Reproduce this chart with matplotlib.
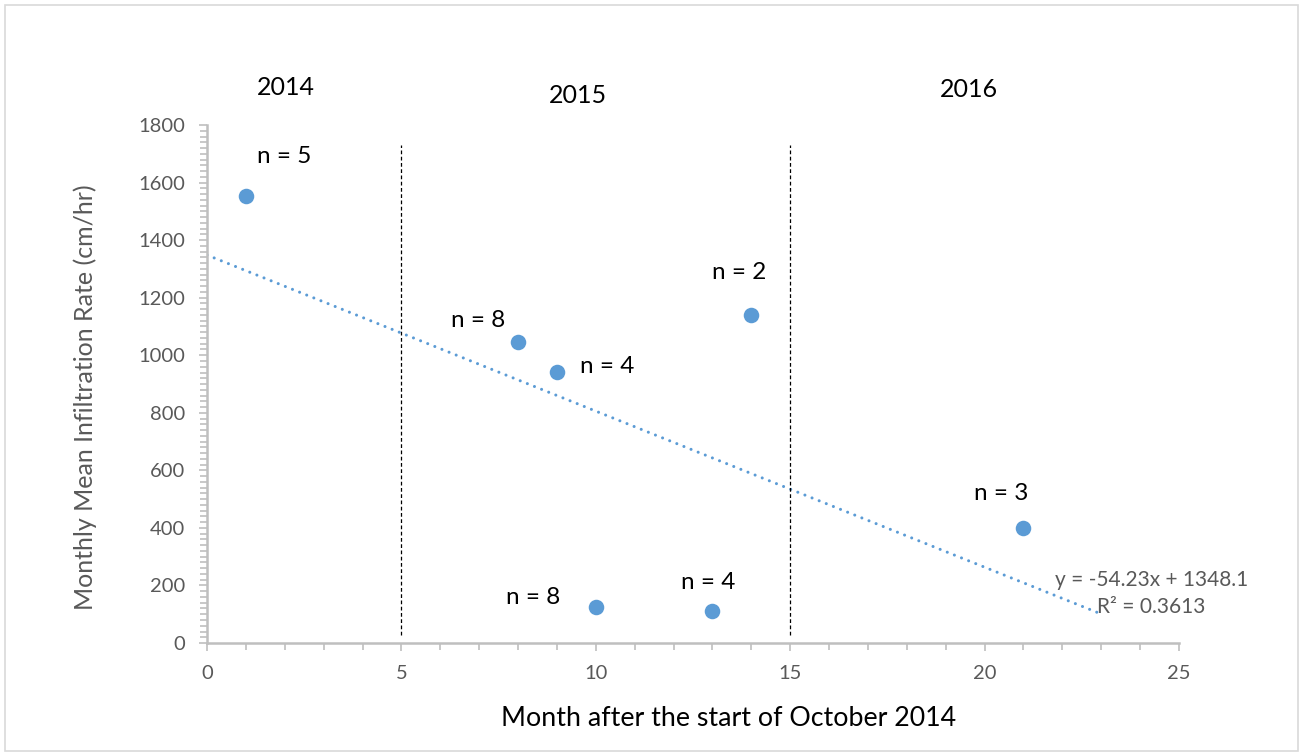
import numpy as np
import matplotlib.pyplot as plt
from matplotlib.ticker import MultipleLocator
from matplotlib.patches import Rectangle

# data
month = [1, 8, 9, 10, 13, 14, 21]
rate = [1553, 1046, 941, 125, 111, 1140, 400]
n_labels = ['n = 5', 'n = 8', 'n = 4', 'n = 8', 'n = 4', 'n = 2', 'n = 3']
# label position offsets (data units) relative to each point
label_dx = [0.99, -1.03, 1.30, -1.62, -0.12, -0.30, -0.56]
label_dy = [139, 76, 20, 33, 101, 149, 121]
year_labels = ['2014', '2015', '2016']
year_x = [2.03, 9.54, 19.6]
year_y = [1932, 1901, 1925]
dividers = [5, 15]

# trendline as reported on the chart
trend_slope = -54.23
trend_intercept = 1348.1
trend_r2 = 0.3613

blue = '#5B9BD5'
grey = '#595959'

plt.rcParams['font.family'] = ['Lato', 'DejaVu Sans']

fig = plt.figure(figsize=(13.03, 7.54), dpi=100)
ax = fig.add_axes([0.1589, 0.1472, 0.9048 - 0.1589, 0.8342 - 0.1472])

# light border round the chart area
fig.patches.append(Rectangle((0.004, 0.004), 0.992, 0.99, transform=fig.transFigure,
                             fill=False, edgecolor='#D9D9D9', linewidth=1.2))

ax.scatter(month, rate, s=125, color=blue, zorder=3, linewidths=0)

# linear trendline, forecast forward 2 months
xt = np.array([0, max(month) + 2])
ax.plot(xt, trend_slope * xt + trend_intercept, linestyle=(0, (0.01, 2.5)), color=blue,
        linewidth=2.2, dash_capstyle='round', zorder=2)
ax.text(21.8, 219, 'y = %.2fx + %.1f' % (trend_slope, trend_intercept), color=grey,
        fontsize=15, va='center', ha='left')
ax.text(22.9, 125, 'R² = %.4f' % trend_r2, color=grey,
        fontsize=15, va='center', ha='left')

for xd in dividers:
    ax.plot([xd, xd], [28, 1730], color='black', linestyle=(0, (3, 2)), linewidth=0.9)

for x, y, t, dx, dy in zip(month, rate, n_labels, label_dx, label_dy):
    ax.text(x + dx, y + dy, t, fontsize=17.5, ha='center', va='center')

for x, y, t in zip(year_x, year_y, year_labels):
    ax.text(x, y, t, fontsize=18, ha='center', va='center', clip_on=False)

ax.set_xlim(0, 25)
ax.set_ylim(0, 1800)
ax.xaxis.set_major_locator(MultipleLocator(5))
ax.xaxis.set_minor_locator(MultipleLocator(1))
ax.yaxis.set_major_locator(MultipleLocator(200))
ax.yaxis.set_minor_locator(MultipleLocator(20))

for side in ['top', 'right']:
    ax.spines[side].set_visible(False)
for side in ['left', 'bottom']:
    ax.spines[side].set_color('#BFBFBF')
    ax.spines[side].set_linewidth(1.8)

ax.tick_params(which='both', direction='out', color='#BFBFBF', labelcolor=grey,
               labelsize=14.5, width=1.2)
ax.tick_params(which='major', length=6, pad=10)
ax.tick_params(which='minor', length=5)

ax.set_ylabel('Monthly Mean Infiltration Rate (cm/hr)', fontsize=18, color=grey)
ax.yaxis.set_label_coords(-0.113, 0.475)
ax.set_xlabel('Month after the start of October 2014', fontsize=19.3, color='black')
ax.xaxis.set_label_coords(0.537, -0.121)

fig.savefig('out.png', dpi=100, facecolor='white')
